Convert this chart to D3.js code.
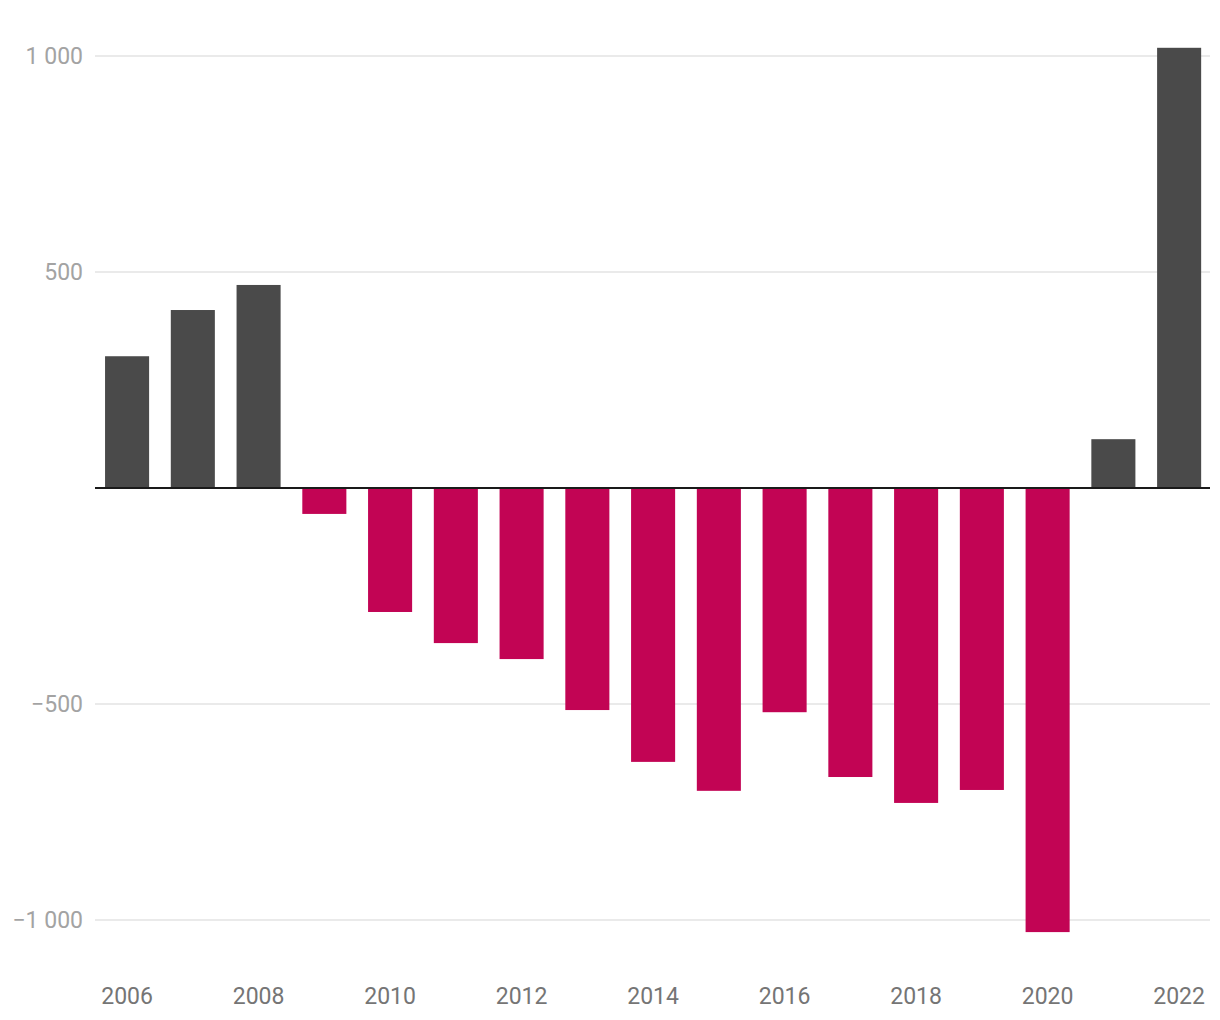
<!DOCTYPE html>
<html><head><meta charset="utf-8">
<script src="https://cdn.jsdelivr.net/npm/d3@7"></script>
<style>body{margin:0;background:#fff;font-family:Roboto,sans-serif}</style>
</head><body><svg id="c" width="1220" height="1020"></svg>
<script>
const years = ["2006","2007","2008","2009","2010","2011","2012","2013","2014","2015","2016","2017","2018","2019","2020","2021","2022"];
const values = [305, 412, 470, -60, -287, -359, -396, -514, -634, -701, -519, -669, -729, -699, -1028, 113, 1019];
const yTicks = [1000, 500, 0, -500, -1000];
const xTickLabels = ["2006","2008","2010","2012","2014","2016","2018","2020","2022"];

const svg = d3.select("#c");
const left = 95, right = 1210;
const x = d3.scaleBand().domain(years).range([94.2, 1212]).paddingInner(0.33).paddingOuter(0.165);
const y = d3.scaleLinear().domain([-1000, 1000]).range([920, 56]);
const fmt = v => (v < 0 ? "\u2212" : "") + d3.format(",")(Math.abs(v)).replace(/,/g, " ");

// grid
svg.append("g").selectAll("line").data(yTicks.filter(d => d !== 0)).join("line")
  .attr("x1", left).attr("x2", right).attr("y1", d => y(d)).attr("y2", d => y(d))
  .attr("stroke", "#e3e3e3").attr("stroke-width", 1.5);
svg.append("g").selectAll("text").data(yTicks.filter(d => d !== 0)).join("text")
  .attr("x", 83).attr("y", d => y(d)).attr("dy", "0.35em").attr("text-anchor", "end")
  .attr("font-size", 23).attr("fill", "#a3a3a3").text(fmt);

// bars
svg.append("g").selectAll("rect").data(values).join("rect")
  .attr("x", (d, i) => x(years[i])).attr("width", x.bandwidth())
  .attr("y", d => y(Math.max(0, d))).attr("height", d => Math.abs(y(d) - y(0)))
  .attr("fill", d => d >= 0 ? "#4a4a4a" : "#c20454");

// baseline
svg.append("line").attr("x1", left).attr("x2", right).attr("y1", y(0)).attr("y2", y(0))
  .attr("stroke", "#1a1a1a").attr("stroke-width", 2);

// x labels
const xAxis = d3.axisBottom(x).tickValues(xTickLabels).tickSize(0).tickPadding(0);
const gx = svg.append("g").attr("transform", "translate(0,996)").call(xAxis);
gx.select(".domain").remove();
gx.selectAll("text").attr("font-size", 23).attr("fill", "#757575").attr("font-family", "Roboto,sans-serif").attr("dy", "0.35em").attr("y", 0);
</script></body></html>
